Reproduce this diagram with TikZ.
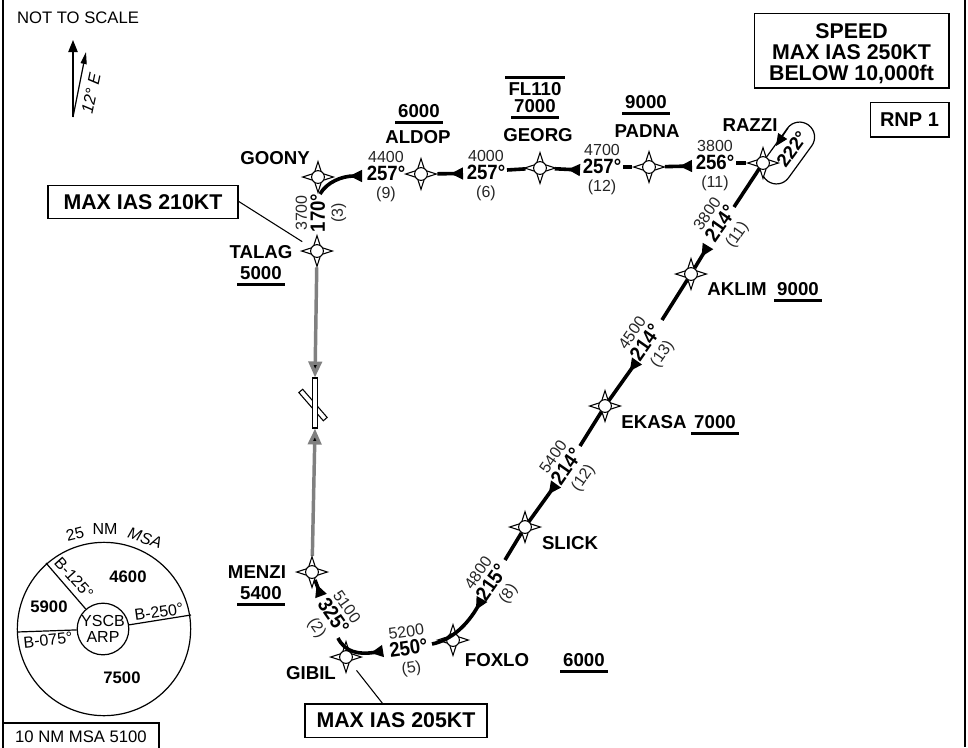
\documentclass[tikz,border=0pt]{standalone}
\usepackage{fontspec}
\setmainfont{Liberation Sans}
\usetikzlibrary{arrows.meta, shapes.geometric, backgrounds}

\newcommand{\limbelow}[1]{\vtop{\hbox{\,#1\,}\kern3pt\hrule height 1.8pt}}
\newcommand{\limabove}[1]{\vbox{\hrule height 1.8pt\kern3pt\hbox{\,#1\,}}}
\newcommand{\crs}[1]{{\color{black}\fontsize{15.5}{13.5}\selectfont\bfseries\addfontfeature{FakeStretch=.9}#1}}

\begin{document}
\begin{tikzpicture}[
    x=.75pt, y=-.75pt,
    waypoint/.style={shape=star, star points=4, star point ratio=2.9, draw=black, fill=white, line width=.8pt,
        inner sep=0pt, minimum size=23pt,
        label={[shape=circle, draw=black, fill=white, line width=.8pt, inner sep=0pt, minimum size=9.6pt]center:{}}},
    fixname/.style={font=\fontsize{14}{16}\selectfont\bfseries, inner sep=0pt, align=center},
    tracktext/.style={font=\fontsize{12}{13.5}\selectfont, text=black!85, inner sep=0pt, align=center},
    msatext/.style={font=\fontsize{12}{14}\selectfont, inner sep=0pt, align=center},
    msaalt/.style={font=\fontsize{12.5}{14}\selectfont\bfseries, inner sep=0pt},
    notebox/.style={shape=rectangle, draw=black, line width=1pt, fill=white, font=\fontsize{16}{15.4}\selectfont\bfseries, align=center, inner sep=0pt},
    holdbox/.style={shape=rectangle, draw=black, line width=.9pt, rounded corners=11.2pt, minimum width=52pt, minimum height=22.5pt, inner sep=0pt},
    runway/.style={shape=rectangle, draw=black, fill=white, line width=.8pt, inner sep=0pt, minimum width=3.8pt},
    leg/.style={line width=2.7pt},
    inbound/.style={-{Triangle[reversed, length=9.5pt, width=8.5pt]}},
    feeder/.style={draw=black!50, line width=2.6pt, -{Triangle[length=12pt, width=10pt]}},
    thin line/.style={line width=.8pt},
]
\useasboundingbox (0,0) rectangle (968,747);

% frame
\coordinate (frame tl) at (3,0);
\coordinate (frame bl) at (3,747);
\coordinate (frame tr) at (965,0);
\coordinate (frame br) at (965,747);
\draw[line width=1pt] (frame tl) -- (frame bl);
\draw[line width=1pt] (frame tr) -- (frame br);

% notes
\node[font=\fontsize{12.5}{14}\selectfont, inner sep=0pt] (scale) at (78,18) {NOT TO SCALE};
\node[notebox, minimum width=146pt, minimum height=56pt] (speed) at (851.5,50.5) {\rule{0pt}{16pt}SPEED\\MAX IAS 250KT\\BELOW 10,000ft};
\node[notebox, font=\fontsize{15}{15}\selectfont\bfseries, minimum width=59pt, minimum height=26pt] (rnp) at (909.5,119.5) {RNP 1};
\node[notebox, minimum width=142.5pt, minimum height=25pt] (ias210) at (143,202) {MAX IAS 210KT};
\node[notebox, minimum width=136.5pt, minimum height=25pt] (ias205) at (396,720.5) {MAX IAS 205KT};
\node[notebox, font=\fontsize{12.5}{14}\selectfont, minimum width=117pt, minimum height=21pt] (msa10) at (81,737) {10 NM MSA 5100};

% north
\coordinate (north foot) at (73,117);
\coordinate (north true) at (73,40);
\coordinate (north mag) at (86,52);
\draw[line width=.9pt, -{Triangle[length=9pt, width=7pt]}] (north foot) -- (north true);
\draw[line width=.9pt, -{Triangle[length=9pt, width=4.5pt]}] (north foot) -- (north mag);
\node[font=\fontsize{12.5}{14}\selectfont\itshape, inner sep=0pt, rotate=78] (var) at (91,93) {12° E};

% hold
\node[holdbox, rotate=54] (hold) at (788,153) {};
\node[font=\fontsize{14}{14}\selectfont\bfseries, inner sep=0pt, rotate=54] (holdcrs) at (792,149) {222°};

% waypoints
\node[waypoint] (razzi) at (763,163) {};
\node[waypoint] (padna) at (649,167) {};
\node[waypoint] (georg) at (540,168) {};
\node[waypoint] (aldop) at (421,174) {};
\node[waypoint] (goony) at (318,177) {};
\node[waypoint] (talag) at (317,251) {};
\node[waypoint] (aklim) at (691,274) {};
\node[waypoint] (ekasa) at (605,406) {};
\node[waypoint] (slick) at (525,527) {};
\node[waypoint] (foxlo) at (453,640) {};
\node[waypoint] (gibil) at (346,657) {};
\node[waypoint] (menzi) at (312,572) {};

% runway
\node[runway, rotate=41, minimum height=28pt] (rwydiag) at (313,405) {};
\node[runway, minimum height=37.5pt] (rwy) at (315,403) {};

% names
\node[fixname] (razzi name) at (750,125) {RAZZI};
\node[fixname] (padna name) at (647,131) {PADNA};
\node[fixname] (padna lim) at (646,105) {\limbelow{9000}};
\node[fixname] (georg name) at (538,135) {GEORG};
\node[fixname] (georg lim) at (535,97.5) {\limabove{FL110}\\[-3.5pt]\limbelow{7000}};
\node[fixname] (aldop name) at (418,137) {ALDOP};
\node[fixname] (aldop lim) at (419,114) {\limbelow{6000}};
\node[fixname] (goony name) at (275,158) {GOONY};
\node[fixname] (talag name) at (261,252) {TALAG};
\node[fixname] (talag lim) at (261,276) {\limbelow{5000}};
\node[fixname] (aklim name) at (737,289) {AKLIM};
\node[fixname] (aklim lim) at (798,292) {\limbelow{9000}};
\node[fixname] (ekasa name) at (654,422) {EKASA};
\node[fixname] (ekasa lim) at (715,425) {\limbelow{7000}};
\node[fixname] (slick name) at (570,543) {SLICK};
\node[fixname] (foxlo name) at (497,660) {FOXLO};
\node[fixname] (foxlo lim) at (584,663) {\limbelow{6000}};
\node[fixname] (gibil name) at (311,673) {GIBIL};
\node[fixname] (menzi name) at (257,572) {MENZI};
\node[fixname] (menzi lim) at (261,596) {\limbelow{5400}};

% track labels
\node[tracktext] (t razzi) at (715,165.5) {3800\\\crs{256°}\\(11)};
\node[tracktext] (t padna) at (602,169.5) {4700\\\crs{257°}\\(12)};
\node[tracktext] (t georg) at (486,175.5) {4000\\\crs{257°}\\(6)};
\node[tracktext] (t aldop) at (386,176.5) {4400\\\crs{257°}\\(9)};
\node[tracktext, rotate=90] (t goony) at (321,213) {3700\\\crs{170°}\\(3)};
\node[tracktext, rotate=55] (t aklim) at (723,225) {3800\\\crs{214°}\\(11)};
\node[tracktext, rotate=55] (t ekasa) at (648,344) {4500\\\crs{214°}\\(13)};
\node[tracktext, rotate=55] (t slick) at (569,468) {5400\\\crs{214°}\\(12)};
\node[tracktext, rotate=55] (t foxlo) at (494,584) {4800\\\crs{215°}\\(8)};
\node[tracktext, rotate=8] (t gibil) at (409,651) {5200\\\crs{250°}\\(5)};
\node[tracktext, rotate=-55] (t menzi) at (331,618) {5100\\\crs{325°}\\(2)};

% free ends of the legs
\coordinate (razzi w) at (736,163);
\coordinate (padna e) at (692,166);
\coordinate (padna w) at (623,167);
\coordinate (georg e) at (580,170);
\coordinate (georg w) at (507,170);
\coordinate (aldop e) at (463,173.5);
\coordinate (goony e) at (362,176);
\coordinate (goony s) at (320,194);
\coordinate (razzi s) at (734,207);
\coordinate (aklim n) at (708,246);
\coordinate (aklim s) at (662,320);
\coordinate (ekasa n) at (637,361);
\coordinate (ekasa s) at (580,446);
\coordinate (slick n) at (556,484);
\coordinate (slick s) at (505,560);
\coordinate (foxlo ne) at (482,599);
\coordinate (foxlo w) at (432,644);
\coordinate (gibil e) at (383,651);
\coordinate (gibil n) at (338,638);
\coordinate (menzi s) at (321,596);
\coordinate (hold start) at (788,128);
\coordinate (hold end) at (776,146);
\coordinate (ias210 end) at (238,201);
\coordinate (ias205 end) at (383,704);

\begin{scope}[on background layer]
\path[leg]
    (razzi) edge (razzi w)
    (padna) edge (padna w)
    (georg) edge (georg w)
    (razzi) edge (razzi s)
    (aklim) edge (aklim s)
    (ekasa) edge (ekasa s)
    (slick) edge (slick s)
;
\path[leg, inbound]
    (padna) edge (padna e)
    (georg) edge (georg e)
    (aldop) edge (aldop e)
    (aklim) edge (aklim n)
    (ekasa) edge (ekasa n)
    (slick) edge (slick n)
    (menzi) edge (menzi s)
;
\path[feeder]
    (talag) edge (rwy.north)
    (menzi) edge (rwy.south)
;
\end{scope}

% turns run over the waypoints
\draw[leg, inbound] (goony s) .. controls (327,182) and (342,176) .. (goony e);
\draw[leg, inbound] (foxlo w) .. controls (452,640) and (468,624) .. (foxlo ne);
\draw[leg, inbound] (gibil n) .. controls (345,652) and (358,655) .. (gibil e);
\draw[line width=.9pt, -{Triangle[length=9pt, width=8pt]}] (hold start) -- (hold end);

\path[thin line, shorten >=8pt]
    (ias210 end) edge (talag)
    (ias205 end) edge (gibil)
;

% msa
\node[shape=circle, draw=black, line width=.9pt, minimum size=130pt, inner sep=0pt] (msa) at (104,629) {};
\node[shape=circle, draw=black, line width=.9pt, fill=white, minimum size=37.5pt, inner sep=0pt, align=center, font=\fontsize{12}{12.5}\selectfont] (ysc) at (103,629) {YSCB\\ARP};
\coordinate (sector a) at (46,563);
\coordinate (sector b) at (191,615);
\coordinate (sector c) at (17,632);
\path[line width=.9pt]
    (ysc) edge (sector a)
    (ysc) edge (sector b)
    (ysc) edge (sector c)
;
\node[msatext, rotate=-48] (brg a) at (74,578) {B-125°};
\node[msatext, rotate=8] (brg b) at (159,612) {B-250°};
\node[msatext, rotate=6] (brg c) at (48,640) {B-075°};
\node[msaalt] (alt a) at (128,577) {4600};
\node[msaalt] (alt b) at (49,607) {5900};
\node[msaalt] (alt c) at (122,678) {7500};
\node[msatext, rotate=14] (msa r) at (75,534) {25};
\node[msatext] (msa nm) at (105,529) {NM};
\node[msatext, font=\fontsize{12}{14}\selectfont\itshape, rotate=-18] (msa t) at (145,538) {MSA};
\end{tikzpicture}
\end{document}
